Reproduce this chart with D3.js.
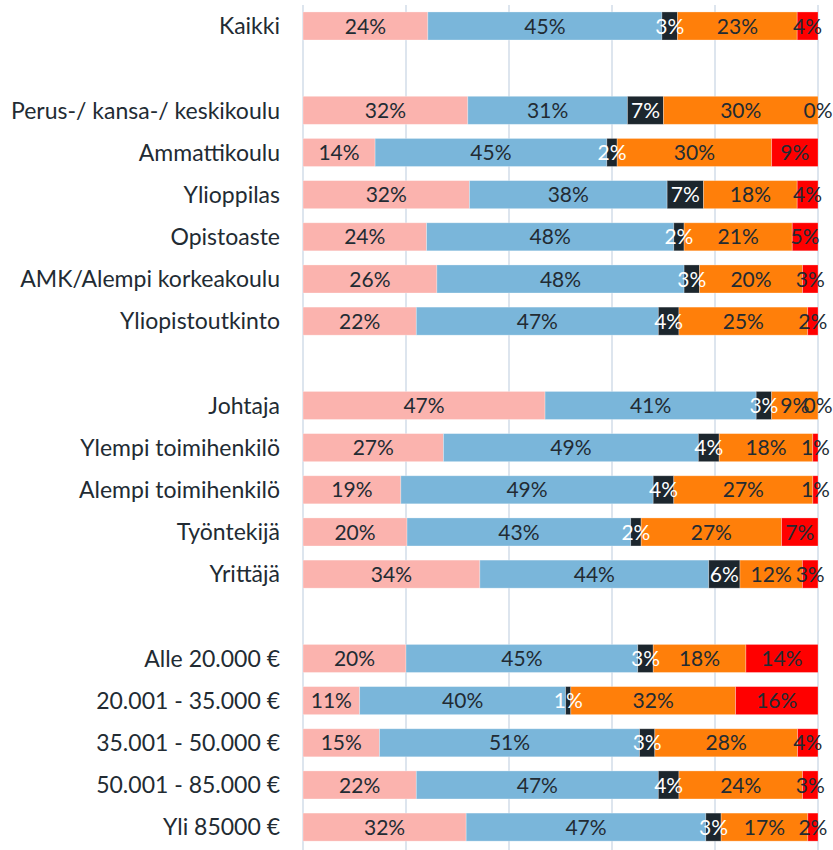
<!DOCTYPE html>
<html>
<head>
<meta charset="utf-8">
<script src="https://cdn.jsdelivr.net/npm/d3@7"></script>
<style>
  body { margin: 0; background: #fff; }
  #chart { width: 833px; height: 850px; }
</style>
</head>
<body>
<div id="chart"></div>
<script>
// rivit ("_gap" = väli ryhmien välissä)
const categories = [
  "Kaikki", "_gap1",
  "Perus-/ kansa-/ keskikoulu", "Ammattikoulu", "Ylioppilas", "Opistoaste",
  "AMK/Alempi korkeakoulu", "Yliopistoutkinto", "_gap2",
  "Johtaja", "Ylempi toimihenkilö", "Alempi toimihenkilö", "Työntekijä", "Yrittäjä", "_gap3",
  "Alle 20.000 €", "20.001 - 35.000 €", "35.001 - 50.000 €", "50.001 - 85.000 €", "Yli 85000 €"
];

const seriesKeys = ["s1", "s2", "s3", "s4", "s5"];

const s1 = [24, 32, 14, 32, 24, 26, 22, 47, 27, 19, 20, 34, 20, 11, 15, 22, 32];
const s2 = [45, 31, 45, 38, 48, 48, 47, 41, 49, 49, 43, 44, 45, 40, 51, 47, 47];
const s3 = [3, 7, 2, 7, 2, 3, 4, 3, 4, 4, 2, 6, 3, 1, 3, 4, 3];
const s4 = [23, 30, 30, 18, 21, 20, 25, 9, 18, 27, 27, 12, 18, 32, 28, 24, 17];
const s5 = [4, 0, 9, 4, 5, 3, 2, 0, 1, 1, 7, 3, 14, 16, 4, 3, 2];

const xTicks = [0, 0.2, 0.4, 0.6, 0.8, 1];

const colors = ["#fbb3ae", "#7ab6da", "#1c262d", "#ff7f0a", "#ff0000"];
const textColors = ["#222b33", "#222b33", "#ffffff", "#222b33", "#222b33"];

const rowNames = categories.filter(c => !c.startsWith("_gap"));
const data = rowNames.map((name, i) => ({
  name, s1: s1[i], s2: s2[i], s3: s3[i], s4: s4[i], s5: s5[i]
}));

const W = 833, H = 850;
const svg = d3.select("#chart").append("svg")
  .attr("width", W).attr("height", H)
  .style("font-family", "Lato, sans-serif");

const x = d3.scaleLinear().domain([0, 1]).range([303, 818]);
const y = d3.scaleBand().domain(categories)
  .range([4.9, 848.2])
  .paddingInner(0.335)
  .paddingOuter(0.1675);

// ruudukko
svg.append("g").selectAll("line")
  .data(xTicks).enter().append("line")
  .attr("x1", d => x(d)).attr("x2", d => x(d))
  .attr("y1", 5).attr("y2", H)
  .attr("stroke", "#dde5ee")
  .attr("stroke-width", 2);

const stack = d3.stack().keys(seriesKeys).offset(d3.stackOffsetExpand);
const stacked = stack(data);

const layers = svg.append("g").selectAll("g")
  .data(stacked).enter().append("g")
  .attr("fill", (d, i) => colors[i]);

layers.selectAll("rect")
  .data(d => d).enter().append("rect")
  .attr("x", d => x(d[0]))
  .attr("y", d => y(d.data.name))
  .attr("width", d => x(d[1]) - x(d[0]))
  .attr("height", y.bandwidth())
  .attr("stroke", "#ffffff")
  .attr("stroke-opacity", 0.35)
  .attr("stroke-width", 0.8);

// arvot
const labels = svg.append("g");
stacked.forEach((layer, i) => {
  labels.selectAll(null)
    .data(layer).enter().append("text")
    .attr("x", d => (x(d[0]) + x(d[1])) / 2)
    .attr("y", d => y(d.data.name) + y.bandwidth() / 2)
    .attr("dy", "0.36em")
    .attr("text-anchor", "middle")
    .style("font-size", "21px")
    .style("fill", textColors[i])
    .text(d => d.data[layer.key] + "%");
});

// rivien nimet
svg.append("g").selectAll("text")
  .data(rowNames).enter().append("text")
  .attr("x", 280)
  .attr("y", d => y(d) + y.bandwidth() / 2)
  .attr("dy", "0.36em")
  .attr("text-anchor", "end")
  .style("font-size", "23px")
  .style("fill", "#222b33")
  .text(d => d);
</script>
</body>
</html>
